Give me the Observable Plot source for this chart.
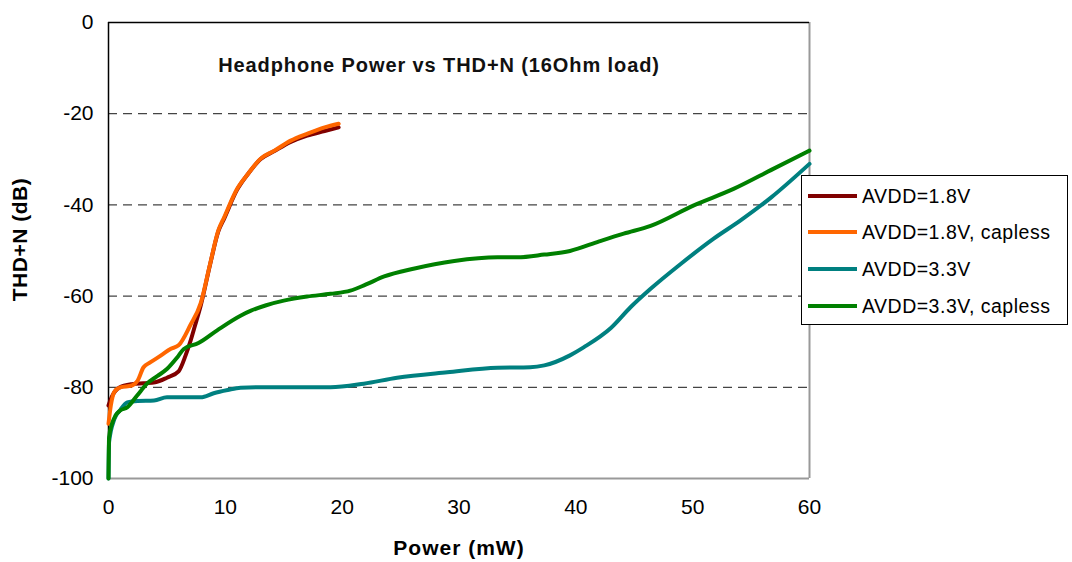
<!DOCTYPE html>
<html>
<head>
<meta charset="utf-8">
<script src="https://cdn.jsdelivr.net/npm/d3@7"></script>
<script src="https://cdn.jsdelivr.net/npm/@observablehq/plot@0.6"></script>
<style>
  body { margin: 0; background: #fff; font-family: "Liberation Sans", Arial, sans-serif; }
  #wrap { position: relative; width: 1072px; height: 562px; overflow: hidden; }
  #legend { position: absolute; left: 801px; top: 175px; width: 267px; height: 150px; box-sizing: border-box; border: 1px solid #000; background: #fff; }
  .item { position: absolute; left: 6px; height: 24px; display: flex; align-items: center; }
  .swatch { width: 49px; height: 4px; margin-right: 5px; }
  .lab { font-size: 19.5px; color: #000; white-space: nowrap; letter-spacing: 0.5px; }
  .ttl text { letter-spacing: 0.9px; }
  .xl text { letter-spacing: 1px; }
  .yl text { letter-spacing: 0.5px; }
</style>
</head>
<body>
<div id="wrap"></div>
<script>
const title = "Headphone Power vs THD+N (16Ohm load)";
const xLabel = "Power (mW)";
const yLabel = "THD+N (dB)";
const seriesNames = ["AVDD=1.8V", "AVDD=1.8V, capless", "AVDD=3.3V", "AVDD=3.3V, capless"];
const seriesColors = ["#800000", "#ff6600", "#008080", "#008000"];
const xTicks = [0, 10, 20, 30, 40, 50, 60];
const yTicks = [0, -20, -40, -60, -80, -100];
const gridLines = [-20, -40, -60, -80];

const avdd18X = [0, 0.3, 0.9, 2.0, 3.0, 4.0, 5.0, 6.0, 6.6, 7.0, 7.4, 7.9, 8.7, 9.4, 9.9, 11.0, 12.0, 13.0, 14.2, 15.6, 17.0, 18.5, 19.7];
const avdd18Y = [-84, -82, -80.1, -79.3, -79.1, -78.9, -77.9, -76.5, -73, -70, -66.5, -62, -53, -45.8, -43, -36.7, -33, -30, -28.2, -26.2, -24.8, -23.8, -23.0];

const avdd18CapX = [0, 0.2, 0.5, 1.0, 2.0, 2.5, 3.0, 3.6, 4.5, 5.3, 6.0, 7.0, 7.9, 8.7, 9.4, 9.9, 11.0, 12.0, 13.0, 14.2, 15.6, 17.0, 18.5, 19.7];
const avdd18CapY = [-88, -84, -81, -80, -79.6, -78.5, -75.6, -74.5, -73, -71.6, -70.8, -66.4, -61.5, -52.9, -45.6, -42.7, -36.5, -33, -29.9, -28.1, -25.9, -24.4, -23, -22.2];

const avdd33X = [0, 0.05, 0.5, 1.0, 1.6, 2.5, 3.9, 5.0, 6.0, 7.9, 9.0, 10.2, 11.3, 13, 15, 17, 19, 21.85, 24.7, 29.0, 33.3, 36.1, 37.3, 39.5, 40.7, 43.0, 44.7, 46.4, 49.0, 51.8, 54.1, 56.7, 60];
const avdd33Y = [-100, -92, -87, -85, -83.3, -83, -82.9, -82.2, -82.2, -82.2, -81.3, -80.6, -80.1, -80, -80, -80, -80, -79.2, -77.9, -76.7, -75.7, -75.6, -75.2, -73, -71.2, -67, -62.4, -58.4, -52.9, -47.4, -43.4, -38.4, -31];

const avdd33CapX = [0, 0.05, 0.3, 0.6, 1.0, 1.6, 2.45, 3.3, 4.2, 5.0, 5.9, 6.45, 7.7, 9.3, 11.3, 12.2, 13.5, 15.0, 17, 19.0, 20.7, 22, 23.6, 26.1, 29.6, 33.3, 35.0, 37.3, 39.5, 42.0, 44.1, 46.4, 50.1, 53.5, 56.9, 60];
const avdd33CapY = [-100, -91, -88, -86.2, -85.1, -84.4, -81.8, -79.2, -77.5, -76, -73.4, -71.6, -70.3, -67.5, -64.3, -63.2, -62, -61, -60.1, -59.5, -58.8, -57.5, -55.7, -54, -52.3, -51.5, -51.5, -50.9, -50.1, -48, -46.3, -44.6, -40.1, -36.5, -32.1, -28.1];

const seriesX = [avdd18X, avdd18CapX, avdd33X, avdd33CapX];
const seriesY = [avdd18Y, avdd18CapY, avdd33Y, avdd33CapY];

const data = [];
seriesNames.forEach((name, i) => {
  seriesX[i].forEach((x, j) => data.push({series: name, x, y: seriesY[i][j]}));
});

const font = "Liberation Sans, Arial, sans-serif";

const chart = Plot.plot({
  width: 1072,
  height: 562,
  marginLeft: 108,
  marginRight: 263,
  marginTop: 22,
  marginBottom: 84,
  style: {fontSize: "21px", fontFamily: font, background: "#fff", color: "#000"},
  x: {domain: [0, 60], ticks: xTicks, tickSize: 0, tickPadding: 21, label: null, tickFormat: d => String(d)},
  y: {domain: [-100, 0], ticks: yTicks, tickSize: 0, tickPadding: 15, label: null, tickFormat: d => String(d)},
  color: {domain: seriesNames, range: seriesColors},
  marks: [
    Plot.ruleY(gridLines, {stroke: "#444", strokeWidth: 1.3, strokeDasharray: "9,6"}),
    Plot.ruleX([60], {stroke: "#999", strokeWidth: 2}),
    Plot.ruleY([-100], {stroke: "#999", strokeWidth: 2}),
    Plot.ruleY([0], {stroke: "#000", strokeWidth: 1.5}),
    Plot.ruleX([0], {stroke: "#000", strokeWidth: 1.5}),
    Plot.line(data, {x: "x", y: "y", z: "series", stroke: "series", strokeWidth: 4, curve: "monotone-x"}),
    Plot.text([title], {frameAnchor: "top", textAnchor: "middle", dx: -20, dy: 35, fontSize: 20, fontWeight: "bold", fill: "#111", className: "ttl"}),
    Plot.text([xLabel], {frameAnchor: "bottom", textAnchor: "middle", lineAnchor: "middle", dy: 70, fontSize: 21, fontWeight: "bold", fill: "#000", className: "xl"}),
    Plot.text([yLabel], {frameAnchor: "left", textAnchor: "middle", lineAnchor: "middle", dx: -88, dy: -11, rotate: -90, fontSize: 21, fontWeight: "bold", fill: "#000", className: "yl"})
  ]
});

const wrap = document.getElementById("wrap");
wrap.appendChild(chart);

const legend = document.createElement("div");
legend.id = "legend";
const rowTops = [8, 44, 81, 118];
seriesNames.forEach((name, i) => {
  const item = document.createElement("div");
  item.className = "item";
  item.style.top = rowTops[i] + "px";
  const sw = document.createElement("div");
  sw.className = "swatch";
  sw.style.background = seriesColors[i];
  const lab = document.createElement("span");
  lab.className = "lab";
  lab.textContent = name;
  item.appendChild(sw);
  item.appendChild(lab);
  legend.appendChild(item);
});
wrap.appendChild(legend);
</script>
</body>
</html>
